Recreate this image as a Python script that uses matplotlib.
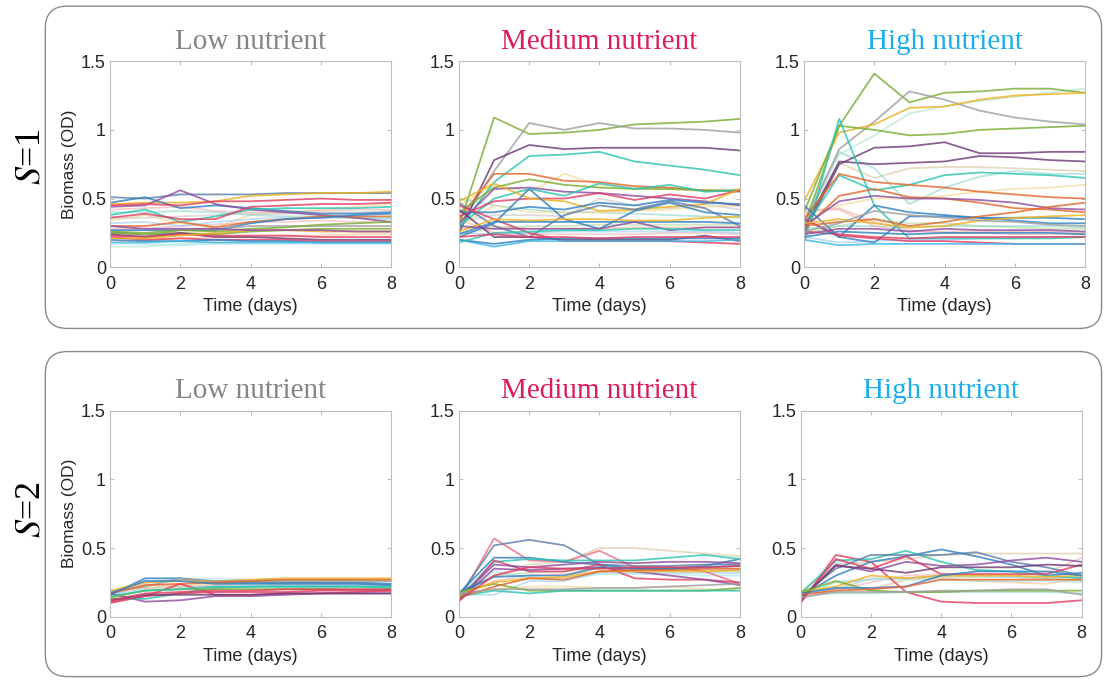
import matplotlib
matplotlib.use("Agg")
import matplotlib.pyplot as plt
from matplotlib.patches import FancyBboxPatch
from matplotlib.ticker import FixedLocator, FixedFormatter

plt.rcParams["mathtext.fontset"] = "stix"

days = [0, 1, 2, 3, 4, 5, 6, 7, 8]

# biomass trajectories (OD), one row per community
s1_low = [
    [0.51, 0.50, 0.53, 0.53, 0.53, 0.54, 0.54, 0.54, 0.54],
    [0.46, 0.47, 0.47, 0.48, 0.52, 0.53, 0.54, 0.54, 0.55],
    [0.47, 0.51, 0.43, 0.45, 0.43, 0.41, 0.39, 0.39, 0.40],
    [0.44, 0.45, 0.56, 0.46, 0.42, 0.40, 0.38, 0.36, 0.33],
    [0.45, 0.46, 0.45, 0.48, 0.48, 0.49, 0.50, 0.49, 0.49],
    [0.38, 0.42, 0.33, 0.37, 0.42, 0.43, 0.43, 0.43, 0.44],
    [0.36, 0.39, 0.35, 0.35, 0.44, 0.45, 0.46, 0.46, 0.47],
    [0.34, 0.38, 0.32, 0.29, 0.38, 0.40, 0.42, 0.44, 0.46],
    [0.30, 0.30, 0.33, 0.29, 0.33, 0.35, 0.37, 0.37, 0.37],
    [0.27, 0.27, 0.27, 0.27, 0.32, 0.35, 0.36, 0.38, 0.39],
    [0.26, 0.23, 0.27, 0.28, 0.30, 0.30, 0.30, 0.30, 0.30],
    [0.25, 0.24, 0.25, 0.24, 0.26, 0.27, 0.28, 0.28, 0.28],
    [0.24, 0.22, 0.25, 0.22, 0.22, 0.21, 0.20, 0.20, 0.20],
    [0.23, 0.22, 0.24, 0.23, 0.23, 0.23, 0.22, 0.22, 0.22],
    [0.22, 0.20, 0.21, 0.20, 0.20, 0.20, 0.19, 0.19, 0.19],
    [0.20, 0.19, 0.19, 0.20, 0.19, 0.19, 0.18, 0.18, 0.18],
    [0.18, 0.18, 0.19, 0.18, 0.18, 0.18, 0.18, 0.18, 0.18],
    [0.15, 0.15, 0.17, 0.18, 0.18, 0.18, 0.18, 0.18, 0.18],
    [0.17, 0.17, 0.16, 0.17, 0.17, 0.17, 0.17, 0.17, 0.17],
    [0.28, 0.28, 0.30, 0.31, 0.33, 0.33, 0.34, 0.33, 0.33],
    [0.32, 0.33, 0.30, 0.33, 0.35, 0.36, 0.36, 0.36, 0.35],
    [0.21, 0.21, 0.23, 0.25, 0.27, 0.27, 0.26, 0.26, 0.26],
    [0.40, 0.40, 0.41, 0.40, 0.38, 0.37, 0.37, 0.36, 0.36],
    [0.42, 0.43, 0.44, 0.41, 0.40, 0.40, 0.41, 0.42, 0.42],
    [0.26, 0.25, 0.27, 0.26, 0.28, 0.29, 0.31, 0.32, 0.33],
    [0.19, 0.19, 0.21, 0.22, 0.22, 0.23, 0.23, 0.24, 0.24],
    [0.30, 0.28, 0.28, 0.28, 0.27, 0.27, 0.27, 0.26, 0.26],
    [0.36, 0.36, 0.37, 0.38, 0.39, 0.39, 0.40, 0.40, 0.41],
]

s1_medium = [
    [0.30, 1.09, 0.97, 0.98, 1.00, 1.04, 1.05, 1.06, 1.08],
    [0.30, 0.70, 1.05, 1.00, 1.05, 1.01, 1.01, 1.00, 0.98],
    [0.25, 0.78, 0.89, 0.86, 0.87, 0.87, 0.87, 0.87, 0.85],
    [0.28, 0.62, 0.81, 0.82, 0.84, 0.77, 0.74, 0.71, 0.67],
    [0.35, 0.68, 0.68, 0.63, 0.62, 0.59, 0.58, 0.56, 0.55],
    [0.45, 0.60, 0.55, 0.68, 0.60, 0.58, 0.57, 0.55, 0.57],
    [0.40, 0.58, 0.64, 0.60, 0.58, 0.57, 0.57, 0.56, 0.56],
    [0.32, 0.57, 0.58, 0.55, 0.54, 0.52, 0.50, 0.48, 0.45],
    [0.30, 0.50, 0.57, 0.52, 0.61, 0.57, 0.60, 0.55, 0.56],
    [0.37, 0.48, 0.50, 0.50, 0.54, 0.49, 0.53, 0.50, 0.56],
    [0.48, 0.61, 0.50, 0.48, 0.41, 0.42, 0.44, 0.46, 0.57],
    [0.40, 0.40, 0.44, 0.42, 0.47, 0.45, 0.49, 0.47, 0.46],
    [0.22, 0.32, 0.57, 0.35, 0.28, 0.41, 0.47, 0.40, 0.38],
    [0.47, 0.30, 0.22, 0.38, 0.45, 0.42, 0.48, 0.43, 0.30],
    [0.45, 0.35, 0.25, 0.19, 0.19, 0.19, 0.19, 0.18, 0.17],
    [0.42, 0.22, 0.22, 0.20, 0.20, 0.20, 0.20, 0.23, 0.19],
    [0.20, 0.15, 0.19, 0.19, 0.19, 0.19, 0.19, 0.19, 0.20],
    [0.20, 0.17, 0.20, 0.21, 0.21, 0.21, 0.21, 0.21, 0.21],
    [0.28, 0.30, 0.28, 0.28, 0.28, 0.29, 0.29, 0.29, 0.29],
    [0.24, 0.33, 0.33, 0.33, 0.33, 0.33, 0.33, 0.33, 0.32],
    [0.26, 0.35, 0.34, 0.35, 0.35, 0.34, 0.34, 0.36, 0.37],
    [0.25, 0.28, 0.30, 0.30, 0.31, 0.31, 0.31, 0.31, 0.31],
    [0.30, 0.28, 0.28, 0.28, 0.28, 0.33, 0.27, 0.29, 0.29],
    [0.50, 0.45, 0.42, 0.40, 0.40, 0.39, 0.38, 0.37, 0.36],
    [0.35, 0.25, 0.24, 0.24, 0.24, 0.24, 0.25, 0.25, 0.24],
    [0.25, 0.24, 0.25, 0.26, 0.26, 0.26, 0.26, 0.26, 0.25],
    [0.33, 0.38, 0.38, 0.37, 0.50, 0.45, 0.43, 0.46, 0.42],
    [0.18, 0.25, 0.26, 0.27, 0.27, 0.28, 0.28, 0.27, 0.27],
    [0.22, 0.24, 0.22, 0.22, 0.21, 0.22, 0.22, 0.22, 0.22],
    [0.30, 0.45, 0.40, 0.40, 0.40, 0.41, 0.42, 0.44, 0.45],
]

s1_high = [
    [0.30, 1.03, 1.41, 1.20, 1.27, 1.28, 1.30, 1.30, 1.27],
    [0.30, 0.86, 1.06, 1.28, 1.22, 1.14, 1.09, 1.06, 1.04],
    [0.48, 0.98, 1.04, 1.16, 1.17, 1.22, 1.25, 1.26, 1.27],
    [0.30, 0.82, 0.96, 1.12, 1.17, 1.21, 1.24, 1.27, 1.30],
    [0.40, 1.03, 1.00, 0.96, 0.97, 1.00, 1.01, 1.02, 1.03],
    [0.25, 0.75, 0.87, 0.88, 0.91, 0.83, 0.83, 0.84, 0.84],
    [0.28, 0.77, 0.75, 0.76, 0.77, 0.81, 0.80, 0.78, 0.77],
    [0.30, 0.76, 0.65, 0.72, 0.73, 0.73, 0.72, 0.71, 0.70],
    [0.18, 1.08, 0.45, 0.21, 0.21, 0.21, 0.21, 0.21, 0.22],
    [0.28, 0.67, 0.56, 0.60, 0.67, 0.69, 0.68, 0.67, 0.65],
    [0.35, 0.84, 0.72, 0.46, 0.58, 0.66, 0.70, 0.68, 0.68],
    [0.35, 0.68, 0.62, 0.60, 0.58, 0.55, 0.53, 0.51, 0.50],
    [0.35, 0.45, 0.50, 0.50, 0.52, 0.55, 0.57, 0.58, 0.60],
    [0.28, 0.52, 0.57, 0.51, 0.50, 0.47, 0.43, 0.42, 0.40],
    [0.30, 0.48, 0.52, 0.50, 0.50, 0.49, 0.47, 0.43, 0.42],
    [0.35, 0.22, 0.45, 0.40, 0.38, 0.36, 0.34, 0.32, 0.32],
    [0.45, 0.22, 0.18, 0.37, 0.37, 0.36, 0.36, 0.36, 0.35],
    [0.35, 0.23, 0.21, 0.19, 0.19, 0.18, 0.17, 0.17, 0.17],
    [0.26, 0.24, 0.22, 0.21, 0.22, 0.22, 0.22, 0.22, 0.22],
    [0.20, 0.16, 0.17, 0.17, 0.17, 0.17, 0.17, 0.17, 0.17],
    [0.22, 0.18, 0.19, 0.20, 0.20, 0.21, 0.21, 0.22, 0.22],
    [0.30, 0.33, 0.35, 0.30, 0.33, 0.37, 0.40, 0.44, 0.47],
    [0.32, 0.35, 0.32, 0.29, 0.30, 0.34, 0.36, 0.37, 0.38],
    [0.26, 0.32, 0.41, 0.38, 0.36, 0.34, 0.33, 0.31, 0.30],
    [0.25, 0.30, 0.35, 0.32, 0.32, 0.30, 0.29, 0.28, 0.28],
    [0.40, 0.43, 0.33, 0.27, 0.25, 0.25, 0.24, 0.24, 0.24],
    [0.24, 0.28, 0.28, 0.26, 0.28, 0.27, 0.27, 0.27, 0.26],
    [0.22, 0.26, 0.25, 0.24, 0.25, 0.25, 0.25, 0.25, 0.24],
    [0.28, 0.30, 0.30, 0.29, 0.30, 0.30, 0.30, 0.30, 0.29],
    [0.42, 0.42, 0.30, 0.26, 0.26, 0.26, 0.26, 0.26, 0.25],
]

s2_low = [
    [0.16, 0.28, 0.28, 0.25, 0.25, 0.25, 0.25, 0.25, 0.24],
    [0.19, 0.25, 0.26, 0.26, 0.27, 0.28, 0.28, 0.28, 0.28],
    [0.18, 0.22, 0.28, 0.26, 0.26, 0.26, 0.26, 0.26, 0.26],
    [0.17, 0.23, 0.24, 0.25, 0.26, 0.27, 0.27, 0.27, 0.27],
    [0.15, 0.26, 0.27, 0.28, 0.27, 0.27, 0.27, 0.27, 0.26],
    [0.17, 0.11, 0.12, 0.15, 0.15, 0.16, 0.17, 0.17, 0.17],
    [0.10, 0.15, 0.24, 0.16, 0.16, 0.17, 0.17, 0.18, 0.19],
    [0.13, 0.13, 0.17, 0.21, 0.22, 0.22, 0.22, 0.22, 0.22],
    [0.14, 0.19, 0.20, 0.20, 0.20, 0.20, 0.20, 0.20, 0.20],
    [0.11, 0.15, 0.17, 0.18, 0.18, 0.18, 0.19, 0.19, 0.19],
    [0.16, 0.21, 0.22, 0.22, 0.22, 0.23, 0.23, 0.23, 0.23],
    [0.12, 0.16, 0.16, 0.16, 0.16, 0.17, 0.17, 0.17, 0.17],
    [0.15, 0.19, 0.20, 0.22, 0.22, 0.22, 0.22, 0.22, 0.21],
    [0.18, 0.24, 0.22, 0.23, 0.24, 0.24, 0.24, 0.24, 0.24],
    [0.13, 0.20, 0.21, 0.21, 0.21, 0.21, 0.21, 0.22, 0.22],
    [0.17, 0.26, 0.26, 0.24, 0.24, 0.24, 0.24, 0.24, 0.23],
    [0.18, 0.21, 0.23, 0.24, 0.25, 0.25, 0.26, 0.26, 0.26],
    [0.12, 0.17, 0.18, 0.19, 0.19, 0.20, 0.20, 0.20, 0.20],
]

s2_medium = [
    [0.12, 0.57, 0.41, 0.40, 0.48, 0.36, 0.36, 0.33, 0.24],
    [0.15, 0.52, 0.56, 0.52, 0.38, 0.37, 0.37, 0.38, 0.38],
    [0.18, 0.30, 0.38, 0.40, 0.50, 0.50, 0.48, 0.46, 0.44],
    [0.17, 0.43, 0.43, 0.40, 0.38, 0.35, 0.35, 0.37, 0.42],
    [0.14, 0.40, 0.42, 0.41, 0.41, 0.41, 0.43, 0.45, 0.42],
    [0.11, 0.41, 0.33, 0.33, 0.38, 0.28, 0.27, 0.27, 0.25],
    [0.13, 0.38, 0.36, 0.38, 0.40, 0.39, 0.40, 0.40, 0.39],
    [0.12, 0.35, 0.34, 0.35, 0.36, 0.33, 0.30, 0.27, 0.23],
    [0.18, 0.29, 0.30, 0.30, 0.36, 0.35, 0.35, 0.36, 0.37],
    [0.18, 0.24, 0.19, 0.19, 0.19, 0.19, 0.19, 0.19, 0.21],
    [0.15, 0.19, 0.17, 0.19, 0.19, 0.19, 0.19, 0.19, 0.19],
    [0.16, 0.25, 0.28, 0.29, 0.33, 0.33, 0.33, 0.33, 0.34],
    [0.14, 0.22, 0.28, 0.27, 0.33, 0.34, 0.34, 0.35, 0.35],
    [0.16, 0.16, 0.26, 0.26, 0.32, 0.32, 0.32, 0.32, 0.32],
    [0.17, 0.20, 0.22, 0.22, 0.21, 0.21, 0.22, 0.20, 0.19],
    [0.17, 0.20, 0.20, 0.20, 0.21, 0.21, 0.22, 0.23, 0.24],
    [0.12, 0.30, 0.36, 0.35, 0.35, 0.36, 0.36, 0.36, 0.37],
    [0.15, 0.30, 0.32, 0.33, 0.35, 0.35, 0.34, 0.34, 0.33],
    [0.16, 0.26, 0.30, 0.31, 0.33, 0.34, 0.35, 0.35, 0.35],
    [0.13, 0.33, 0.28, 0.28, 0.31, 0.31, 0.31, 0.30, 0.30],
]

s2_high = [
    [0.10, 0.45, 0.40, 0.18, 0.11, 0.10, 0.10, 0.10, 0.12],
    [0.15, 0.30, 0.40, 0.44, 0.49, 0.44, 0.38, 0.30, 0.32],
    [0.17, 0.41, 0.42, 0.48, 0.40, 0.34, 0.33, 0.30, 0.28],
    [0.15, 0.35, 0.45, 0.45, 0.45, 0.47, 0.40, 0.36, 0.30],
    [0.18, 0.38, 0.40, 0.42, 0.45, 0.46, 0.46, 0.46, 0.46],
    [0.12, 0.38, 0.33, 0.40, 0.37, 0.38, 0.41, 0.43, 0.40],
    [0.11, 0.42, 0.35, 0.44, 0.31, 0.31, 0.31, 0.31, 0.38],
    [0.13, 0.37, 0.35, 0.32, 0.36, 0.36, 0.36, 0.38, 0.37],
    [0.18, 0.22, 0.30, 0.28, 0.30, 0.30, 0.30, 0.29, 0.30],
    [0.17, 0.20, 0.20, 0.27, 0.28, 0.26, 0.25, 0.24, 0.28],
    [0.18, 0.26, 0.19, 0.18, 0.18, 0.19, 0.19, 0.19, 0.19],
    [0.17, 0.17, 0.17, 0.18, 0.18, 0.18, 0.18, 0.18, 0.17],
    [0.16, 0.20, 0.28, 0.28, 0.30, 0.30, 0.29, 0.28, 0.29],
    [0.17, 0.21, 0.21, 0.22, 0.30, 0.33, 0.33, 0.33, 0.30],
    [0.16, 0.19, 0.20, 0.22, 0.27, 0.27, 0.27, 0.27, 0.27],
    [0.14, 0.20, 0.25, 0.30, 0.31, 0.31, 0.31, 0.32, 0.43],
    [0.14, 0.18, 0.18, 0.18, 0.19, 0.19, 0.20, 0.20, 0.16],
    [0.16, 0.25, 0.27, 0.28, 0.29, 0.29, 0.29, 0.28, 0.26],
    [0.15, 0.26, 0.27, 0.27, 0.27, 0.26, 0.26, 0.26, 0.25],
]

panels = [[s1_low, s1_medium, s1_high], [s2_low, s2_medium, s2_high]]
nutrient_titles = ["Low nutrient", "Medium nutrient", "High nutrient"]
title_colours = ["#858585", "#DC1F5C", "#1BAEEA"]
row_labels = ["$S$=1", "$S$=2"]

# line colours: strong ones drawn fairly opaque, pale ones washed out
STRONG = {
    "g": "#77AC30", "gr": "#9E9E9E", "p": "#8E4A9E", "dp": "#6B3A75",
    "t": "#2BC4B0", "o": "#E0662B", "y": "#EDB120", "b": "#2F7FC1",
    "sb": "#5B7DA8", "r": "#E03B5F", "c": "#3FB8E8", "pk": "#EE6E80",
}
PALE = {
    "ly": "#F2D48A", "lm": "#A9E3C8", "lc": "#A8E4F0", "lp": "#F4B0B0",
    "lb": "#98C8EE", "lt": "#86D6CA", "lo": "#F6BC8C", "lg": "#C4C4C4",
    "lgn": "#B4D69C", "lbe": "#D6C49C",
}

line_codes = [
    [
        ["sb", "y", "b", "p", "r", "t", "r", "ly", "o", "b", "gr", "g", "dp", "r",
         "r", "b", "c", "lm", "lc", "lp", "lb", "y", "lt", "lp", "g", "lo", "p", "lg"],
        ["g", "gr", "dp", "t", "o", "ly", "g", "p", "t", "r", "y", "b", "b", "sb",
         "r", "dp", "c", "b", "lo", "b", "y", "lgn", "p", "lt", "lp", "lb", "lg", "t",
         "r", "ly"],
        ["g", "gr", "y", "lm", "g", "dp", "dp", "lbe", "t", "t", "lt", "o", "ly", "o",
         "p", "b", "b", "r", "r", "c", "lb", "o", "y", "gr", "lgn", "lp", "p", "b",
         "lt", "lp"],
    ],
    [
        ["b", "y", "gr", "o", "lc", "p", "r", "t", "g", "r", "lb", "dp", "t", "lp",
         "lgn", "b", "ly", "r"],
        ["pk", "sb", "lbe", "b", "t", "r", "p", "p", "b", "g", "t", "y", "o", "lb",
         "ly", "gr", "r", "lgn", "lp", "lc"],
        ["r", "b", "t", "sb", "lbe", "p", "r", "dp", "y", "lo", "g", "lt", "lb", "b",
         "o", "lp", "gr", "lgn", "lc"],
    ],
]

# figure-fraction geometry of the six axes
lefts = [0.0995, 0.415, 0.727]
bottoms = [0.607, 0.093]
ax_w, ax_h = 0.254, 0.303

fig = plt.figure(figsize=(11.06, 6.8), dpi=100)

# rounded frames around each row
for yb, yh in [(0.517, 0.474), (0.005, 0.478)]:
    box = FancyBboxPatch((0.041, yb), 0.955, yh,
                         boxstyle="round,pad=0,rounding_size=0.02",
                         transform=fig.transFigure, facecolor="none",
                         edgecolor="#8A8A8A", lw=1.0, mutation_aspect=1.6)
    fig.patches.append(box)

for r, row in enumerate(panels):
    for c, series in enumerate(row):
        ax = fig.add_axes([lefts[c] - (0.003 if (r == 1 and c == 2) else 0),
                           bottoms[r], ax_w, ax_h])
        codes = line_codes[r][c]
        # pale lines first so the strong ones sit on top
        order = sorted(range(len(series)), key=lambda k: codes[k] in STRONG)
        for i in order:
            code = codes[i]
            if code in STRONG:
                ax.plot(days, series[i], color=STRONG[code], lw=1.3, alpha=0.8)
            else:
                ax.plot(days, series[i], color=PALE[code], lw=1.3, alpha=0.6)
        ax.set_xlim(0, 8)
        ax.set_ylim(0, 1.5)
        ax.xaxis.set_major_locator(FixedLocator([0, 2, 4, 6, 8]))
        ax.yaxis.set_major_locator(FixedLocator([0, 0.5, 1, 1.5]))
        ax.yaxis.set_major_formatter(FixedFormatter(["0", "0.5", "1", "1.5"]))
        ax.tick_params(direction="in", length=3, width=0.6, color="#B0B0B0",
                       top=True, right=True, labelsize=13,
                       labelcolor="#262626")
        ax.tick_params(axis="x", pad=6)
        ax.tick_params(axis="y", pad=3)
        for sp in ax.spines.values():
            sp.set_color("#BDBDBD")
            sp.set_linewidth(0.8)
        for lab in ax.get_xticklabels() + ax.get_yticklabels():
            lab.set_family("Liberation Sans")
        ax.set_xlabel("Time (days)", fontsize=13, family="Liberation Sans",
                      color="#262626", labelpad=4)
        if c == 0:
            ax.set_ylabel("Biomass (OD)", fontsize=12.5,
                          family="Liberation Sans", color="#262626",
                          labelpad=3)
        ax.set_title(nutrient_titles[c], fontsize=21, family="Liberation Serif",
                     color=title_colours[c], pad=9)

fig.text(0.028, 0.77, row_labels[0], rotation=90, ha="center", va="center",
         fontsize=26, family="Liberation Serif")
fig.text(0.028, 0.25, row_labels[1], rotation=90, ha="center", va="center",
         fontsize=26, family="Liberation Serif")

fig.savefig("out.png", dpi=100, facecolor="white")
